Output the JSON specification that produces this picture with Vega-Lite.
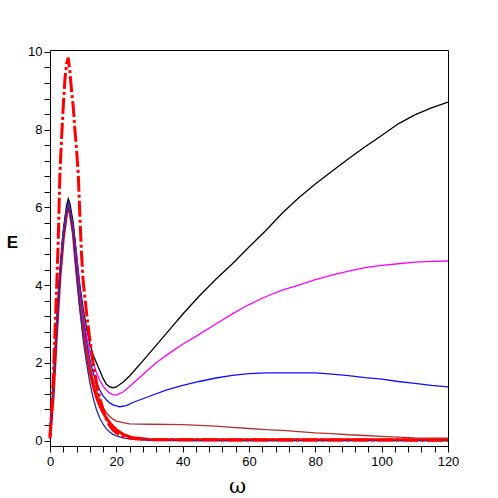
{
  "$schema": "https://vega.github.io/schema/vega-lite/v6.json",
  "width": 398,
  "height": 396,
  "autosize": "none",
  "padding": {"left": 50, "top": 50, "right": 50, "bottom": 52},
  "background": "white",
  "config": {
    "view": {"stroke": "black", "strokeWidth": 1},
    "axis": {"domainColor": "black", "tickColor": "black", "labelColor": "black", "labelFont": "Liberation Sans", "labelFontSize": 13, "grid": false, "tickSize": 6, "labelOverlap": false, "labelFlush": false}
  },
  "datasets": {
    "d": [
      {"s":"black","w":0,"e":0.1},{"s":"black","w":1,"e":1.3},{"s":"black","w":2,"e":2.9},{"s":"black","w":3,"e":4.3},{"s":"black","w":4,"e":5.4},{"s":"black","w":5,"e":6.05},{"s":"black","w":5.5,"e":6.22},{"s":"black","w":6,"e":6.1},{"s":"black","w":7,"e":5.6},{"s":"black","w":8,"e":4.8},{"s":"black","w":9,"e":4.0},{"s":"black","w":10,"e":3.4},{"s":"black","w":11,"e":2.9},{"s":"black","w":12,"e":2.5},{"s":"black","w":13,"e":2.2},{"s":"black","w":14,"e":2.0},{"s":"black","w":15,"e":1.8},{"s":"black","w":16,"e":1.6},{"s":"black","w":17,"e":1.45},{"s":"black","w":18,"e":1.38},{"s":"black","w":19,"e":1.36},{"s":"black","w":20,"e":1.38},{"s":"black","w":22,"e":1.5},{"s":"black","w":24,"e":1.66},{"s":"black","w":28,"e":2.05},{"s":"black","w":32,"e":2.45},{"s":"black","w":36,"e":2.85},{"s":"black","w":40,"e":3.25},{"s":"black","w":45,"e":3.72},{"s":"black","w":50,"e":4.15},{"s":"black","w":55,"e":4.55},{"s":"black","w":60,"e":4.98},{"s":"black","w":65,"e":5.4},{"s":"black","w":70,"e":5.85},{"s":"black","w":75,"e":6.25},{"s":"black","w":80,"e":6.6},{"s":"black","w":85,"e":6.93},{"s":"black","w":90,"e":7.25},{"s":"black","w":95,"e":7.56},{"s":"black","w":100,"e":7.85},{"s":"black","w":105,"e":8.15},{"s":"black","w":110,"e":8.38},{"s":"black","w":115,"e":8.56},{"s":"black","w":120,"e":8.71},
      {"s":"magenta","w":0,"e":0.1},{"s":"magenta","w":1,"e":1.3},{"s":"magenta","w":2,"e":2.9},{"s":"magenta","w":3,"e":4.3},{"s":"magenta","w":4,"e":5.3},{"s":"magenta","w":5,"e":5.9},{"s":"magenta","w":5.5,"e":6.0},{"s":"magenta","w":6,"e":5.95},{"s":"magenta","w":7,"e":5.5},{"s":"magenta","w":8,"e":4.75},{"s":"magenta","w":9,"e":3.9},{"s":"magenta","w":10,"e":3.25},{"s":"magenta","w":11,"e":2.7},{"s":"magenta","w":12,"e":2.3},{"s":"magenta","w":13,"e":2.0},{"s":"magenta","w":14,"e":1.75},{"s":"magenta","w":15,"e":1.55},{"s":"magenta","w":16,"e":1.4},{"s":"magenta","w":17,"e":1.3},{"s":"magenta","w":18,"e":1.22},{"s":"magenta","w":19,"e":1.18},{"s":"magenta","w":20,"e":1.17},{"s":"magenta","w":22,"e":1.25},{"s":"magenta","w":24,"e":1.39},{"s":"magenta","w":28,"e":1.7},{"s":"magenta","w":32,"e":2.0},{"s":"magenta","w":36,"e":2.25},{"s":"magenta","w":40,"e":2.48},{"s":"magenta","w":44,"e":2.68},{"s":"magenta","w":50,"e":3.0},{"s":"magenta","w":55,"e":3.26},{"s":"magenta","w":60,"e":3.5},{"s":"magenta","w":65,"e":3.7},{"s":"magenta","w":70,"e":3.87},{"s":"magenta","w":75,"e":4.0},{"s":"magenta","w":80,"e":4.14},{"s":"magenta","w":85,"e":4.26},{"s":"magenta","w":90,"e":4.36},{"s":"magenta","w":95,"e":4.45},{"s":"magenta","w":100,"e":4.51},{"s":"magenta","w":105,"e":4.55},{"s":"magenta","w":110,"e":4.59},{"s":"magenta","w":115,"e":4.61},{"s":"magenta","w":120,"e":4.62},
      {"s":"blue","w":0,"e":0.1},{"s":"blue","w":1,"e":1.3},{"s":"blue","w":2,"e":2.9},{"s":"blue","w":3,"e":4.3},{"s":"blue","w":4,"e":5.35},{"s":"blue","w":5,"e":5.95},{"s":"blue","w":5.5,"e":6.12},{"s":"blue","w":6,"e":6.0},{"s":"blue","w":7,"e":5.45},{"s":"blue","w":8,"e":4.6},{"s":"blue","w":9,"e":3.8},{"s":"blue","w":10,"e":3.1},{"s":"blue","w":11,"e":2.55},{"s":"blue","w":12,"e":2.1},{"s":"blue","w":13,"e":1.75},{"s":"blue","w":14,"e":1.5},{"s":"blue","w":15,"e":1.3},{"s":"blue","w":16,"e":1.15},{"s":"blue","w":17,"e":1.05},{"s":"blue","w":18,"e":0.97},{"s":"blue","w":19,"e":0.92},{"s":"blue","w":20,"e":0.89},{"s":"blue","w":21,"e":0.87},{"s":"blue","w":23,"e":0.9},{"s":"blue","w":25,"e":0.98},{"s":"blue","w":30,"e":1.14},{"s":"blue","w":35,"e":1.3},{"s":"blue","w":40,"e":1.42},{"s":"blue","w":45,"e":1.52},{"s":"blue","w":50,"e":1.61},{"s":"blue","w":55,"e":1.68},{"s":"blue","w":60,"e":1.72},{"s":"blue","w":65,"e":1.74},{"s":"blue","w":70,"e":1.74},{"s":"blue","w":75,"e":1.74},{"s":"blue","w":80,"e":1.74},{"s":"blue","w":85,"e":1.71},{"s":"blue","w":90,"e":1.67},{"s":"blue","w":95,"e":1.62},{"s":"blue","w":100,"e":1.58},{"s":"blue","w":105,"e":1.52},{"s":"blue","w":110,"e":1.47},{"s":"blue","w":115,"e":1.42},{"s":"blue","w":120,"e":1.38},
      {"s":"brown","w":0,"e":0.1},{"s":"brown","w":1,"e":1.3},{"s":"brown","w":2,"e":2.9},{"s":"brown","w":3,"e":4.3},{"s":"brown","w":4,"e":5.3},{"s":"brown","w":5,"e":5.9},{"s":"brown","w":5.5,"e":6.05},{"s":"brown","w":6,"e":5.95},{"s":"brown","w":7,"e":5.4},{"s":"brown","w":8,"e":4.5},{"s":"brown","w":9,"e":3.7},{"s":"brown","w":10,"e":3.0},{"s":"brown","w":11,"e":2.4},{"s":"brown","w":12,"e":1.95},{"s":"brown","w":13,"e":1.6},{"s":"brown","w":14,"e":1.3},{"s":"brown","w":15,"e":1.05},{"s":"brown","w":16,"e":0.85},{"s":"brown","w":17,"e":0.72},{"s":"brown","w":18,"e":0.62},{"s":"brown","w":19,"e":0.55},{"s":"brown","w":20,"e":0.5},{"s":"brown","w":22,"e":0.46},{"s":"brown","w":24,"e":0.43},{"s":"brown","w":30,"e":0.42},{"s":"brown","w":40,"e":0.41},{"s":"brown","w":50,"e":0.37},{"s":"brown","w":55,"e":0.34},{"s":"brown","w":60,"e":0.31},{"s":"brown","w":65,"e":0.28},{"s":"brown","w":70,"e":0.26},{"s":"brown","w":75,"e":0.23},{"s":"brown","w":80,"e":0.2},{"s":"brown","w":85,"e":0.18},{"s":"brown","w":90,"e":0.15},{"s":"brown","w":95,"e":0.13},{"s":"brown","w":100,"e":0.11},{"s":"brown","w":105,"e":0.09},{"s":"brown","w":110,"e":0.07},{"s":"brown","w":115,"e":0.06},{"s":"brown","w":120,"e":0.06},
      {"s":"navy","w":0,"e":0.1},{"s":"navy","w":1,"e":1.2},{"s":"navy","w":2,"e":2.8},{"s":"navy","w":3,"e":4.2},{"s":"navy","w":4,"e":5.2},{"s":"navy","w":5,"e":5.85},{"s":"navy","w":5.5,"e":6.0},{"s":"navy","w":6,"e":5.9},{"s":"navy","w":7,"e":5.3},{"s":"navy","w":8,"e":4.3},{"s":"navy","w":9,"e":3.4},{"s":"navy","w":10,"e":2.6},{"s":"navy","w":11,"e":2.0},{"s":"navy","w":12,"e":1.5},{"s":"navy","w":13,"e":1.1},{"s":"navy","w":14,"e":0.8},{"s":"navy","w":15,"e":0.58},{"s":"navy","w":16,"e":0.42},{"s":"navy","w":17,"e":0.3},{"s":"navy","w":18,"e":0.22},{"s":"navy","w":19,"e":0.16},{"s":"navy","w":20,"e":0.12},{"s":"navy","w":22,"e":0.07},{"s":"navy","w":25,"e":0.03},{"s":"navy","w":30,"e":0.01},{"s":"navy","w":40,"e":0.0},{"s":"navy","w":120,"e":0.0},
      {"s":"red","w":0,"e":0.1},{"s":"red","w":1,"e":1.2},{"s":"red","w":2,"e":2.8},{"s":"red","w":3,"e":4.2},{"s":"red","w":4,"e":5.2},{"s":"red","w":5,"e":5.85},{"s":"red","w":5.5,"e":6.0},{"s":"red","w":6,"e":5.9},{"s":"red","w":7,"e":5.35},{"s":"red","w":8,"e":4.4},{"s":"red","w":9,"e":3.55},{"s":"red","w":10,"e":2.85},{"s":"red","w":11,"e":2.3},{"s":"red","w":12,"e":1.8},{"s":"red","w":13,"e":1.42},{"s":"red","w":14,"e":1.12},{"s":"red","w":15,"e":0.9},{"s":"red","w":16,"e":0.72},{"s":"red","w":17,"e":0.58},{"s":"red","w":18,"e":0.46},{"s":"red","w":19,"e":0.36},{"s":"red","w":20,"e":0.28},{"s":"red","w":22,"e":0.16},{"s":"red","w":25,"e":0.07},{"s":"red","w":30,"e":0.03},{"s":"red","w":40,"e":0.02},{"s":"red","w":120,"e":0.02},
      {"s":"reddash","w":0,"e":0.05},{"s":"reddash","w":0.5,"e":0.8},{"s":"reddash","w":1,"e":1.6},{"s":"reddash","w":1.5,"e":2.8},{"s":"reddash","w":2,"e":3.9},{"s":"reddash","w":2.5,"e":5.2},{"s":"reddash","w":3,"e":6.9},{"s":"reddash","w":3.5,"e":7.8},{"s":"reddash","w":4,"e":8.6},{"s":"reddash","w":4.5,"e":9.3},{"s":"reddash","w":5,"e":9.7},{"s":"reddash","w":5.5,"e":9.85},{"s":"reddash","w":6,"e":9.5},{"s":"reddash","w":6.5,"e":9.0},{"s":"reddash","w":7,"e":8.6},{"s":"reddash","w":7.5,"e":8.0},{"s":"reddash","w":8,"e":7.5},{"s":"reddash","w":8.5,"e":6.9},{"s":"reddash","w":9,"e":5.8},{"s":"reddash","w":9.5,"e":4.8},{"s":"reddash","w":10,"e":4.1},{"s":"reddash","w":11,"e":3.3},{"s":"reddash","w":12,"e":2.6},{"s":"reddash","w":13,"e":2.0},{"s":"reddash","w":14,"e":1.5},{"s":"reddash","w":15,"e":1.1},{"s":"reddash","w":16,"e":0.8},{"s":"reddash","w":17,"e":0.55},{"s":"reddash","w":18,"e":0.38},{"s":"reddash","w":19,"e":0.27},{"s":"reddash","w":20,"e":0.2},{"s":"reddash","w":22,"e":0.1},{"s":"reddash","w":25,"e":0.05},{"s":"reddash","w":30,"e":0.02},{"s":"reddash","w":120,"e":0.01}
    ]
  },
  "encoding": {
    "x": {"field": "w", "type": "quantitative",
      "scale": {"domain": [0, 120], "nice": false, "zero": false},
      "axis": {"title": "ω", "titleFont": "DejaVu Serif", "titleFontSize": 21, "titleFontWeight": "normal", "titleColor": "black", "titleX": 187, "titleY": 46, "titleBaseline": "alphabetic",
        "values": [0,4,8,12,16,20,24,28,32,36,40,44,48,52,56,60,64,68,72,76,80,84,88,92,96,100,104,108,112,116,120],
        "labelOverlap": false,
        "labelExpr": "datum.value % 20 === 0 ? '' + datum.value : ''", "labelPadding": 3}},
    "y": {"field": "e", "type": "quantitative",
      "scale": {"domain": [-0.14, 10.05], "nice": false, "zero": false},
      "axis": {"title": "E", "titleFont": "Liberation Sans", "titleFontSize": 17, "titleFontWeight": "bold", "titleColor": "black", "titleAngle": 0, "titleX": -38, "titleY": 192, "titleAlign": "center", "titleBaseline": "middle",
        "values": [0,0.4,0.8,1.2,1.6,2,2.4,2.8,3.2,3.6,4,4.4,4.8,5.2,5.6,6,6.4,6.8,7.2,7.6,8,8.4,8.8,9.2,9.6,10],
        "labelOverlap": false,
        "labelExpr": "datum.value % 2 === 0 ? '' + datum.value : ''", "labelPadding": 2}}
  },
  "layer": [
    {"data": {"name": "d"}, "transform": [{"filter": "datum.s === 'red'"}],
     "mark": {"type": "line", "color": "#ff0000", "strokeWidth": 3}, "encoding": {"detail": {"field": "s"}}},
    {"data": {"name": "d"}, "transform": [{"filter": "datum.s !== 'red' && datum.s !== 'reddash'"}],
     "mark": {"type": "line", "strokeWidth": 1.3},
     "encoding": {"color": {"field": "s", "type": "nominal", "legend": null,
        "scale": {"domain": ["brown","blue","magenta","black","navy"], "range": ["#b03030","#1010ff","#ff00ff","#000000","#2a2aa0"]}}}},
    {"data": {"name": "d"}, "transform": [{"filter": "datum.s === 'reddash'"}],
     "mark": {"type": "line", "color": "#ff0000", "strokeWidth": 3, "strokeDash": [16, 3, 3, 3]}, "encoding": {"detail": {"field": "s"}}}
  ]
}
